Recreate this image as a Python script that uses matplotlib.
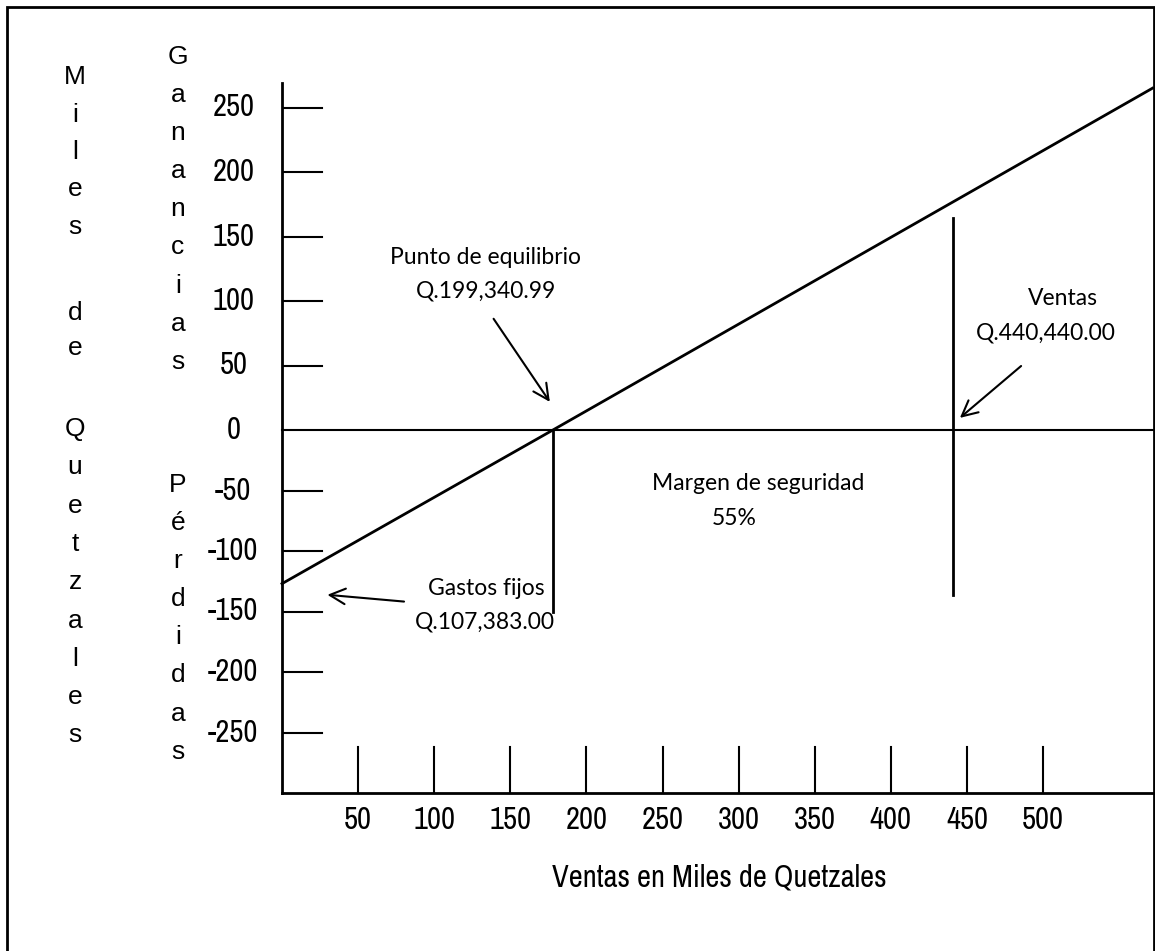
import numpy as np
import matplotlib
matplotlib.use("Agg")
import matplotlib.pyplot as plt

# values (miles de quetzales)
y_ticks = [250, 200, 150, 100, 50, 0, -50, -100, -150, -200, -250]
x_ticks = [50, 100, 150, 200, 250, 300, 350, 400, 450, 500]

line_sales = [0, 178, 572]
line_profit = [-127, 0, 265]

breakeven_x = 178
ventas_x = 441

narrow = ["Liberation Sans Narrow", "Arial Narrow", "Archivo Narrow", "Liberation Sans"]
arial = ["Liberation Sans", "DejaVu Sans"]
calibri = ["Lato", "DejaVu Sans"]


def fwd(v):
    v = np.asarray(v, dtype=float)
    return np.where(v >= 0, v * 1.29, v * 1.21)


def inv(v):
    v = np.asarray(v, dtype=float)
    return np.where(v >= 0, v / 1.29, v / 1.21)


fig = plt.figure(figsize=(11.55, 9.51), dpi=100)
ax = fig.add_axes([0, 0, 1, 1])
ax.set_yscale("function", functions=(fwd, inv))
ax.set_xlim(-282 / 1.522, (1155 - 282) / 1.522)
ax.set_ylim(-(951 - 430) / 1.21, 430 / 1.29)
ax.axis("off")

# frame around the whole picture
fig.patches.append(plt.Rectangle((7 / 1155, -0.01), (1154 - 7) / 1155, 1 - 7 / 951 + 0.01,
                                 transform=fig.transFigure, fill=False, lw=2, ec="black"))

x_right = ax.get_xlim()[1]
axis_bottom = -300

# axes
ax.plot([0, 0], [axis_bottom, 269], color="black", lw=2)
ax.plot([0, x_right], [axis_bottom, axis_bottom], color="black", lw=2)
ax.plot([0, x_right], [0, 0], color="black", lw=1.5)

# y tick marks and labels
for v in y_ticks:
    if v != 0:
        ax.plot([1, 26], [v, v], color="black", lw=1.5)
    ax.text(-32, v, str(v), ha="center", va="center", fontsize=22, family=narrow)

# x tick marks and labels
for v in x_ticks:
    ax.plot([v, v], [axis_bottom, -262], color="black", lw=1.5)
    ax.text(v, -322, str(v), ha="center", va="center", fontsize=22, family=narrow)

ax.text(287, -370, "Ventas en Miles de Quetzales", ha="center", va="center",
        fontsize=22, family=narrow)

# break-even line and markers
ax.plot(line_sales, line_profit, color="black", lw=2)
ax.plot([breakeven_x, breakeven_x], [0, -150], color="black", lw=2)
ax.plot([ventas_x, ventas_x], [164, -136], color="black", lw=2)

arrow = dict(arrowstyle="->", color="black", lw=1.5, mutation_scale=28)
ax.annotate("", xy=(177, 20), xytext=(138, 88), arrowprops=arrow)
ax.annotate("", xy=(444, 8), xytext=(487, 51), arrowprops=arrow)
ax.annotate("", xy=(28, -136), xytext=(82, -142), arrowprops=arrow)

txt = dict(ha="center", va="center", fontsize=16.5, family=calibri)
ax.text(134, 134, "Punto de equilibrio", **txt)
ax.text(134, 108, "Q.199,340.99", **txt)
ax.text(313, -44, "Margen de seguridad", **txt)
ax.text(297, -73, "55%", **txt)
ax.text(134, -131, "Gastos fijos", **txt)
ax.text(133, -159, "Q.107,383.00", **txt)
ax.text(513, 102, "Ventas", **txt)
ax.text(502, 75, "Q.440,440.00", **txt)


# stacked axis titles, one letter per line
def stack(word, px, py, step=37.5):
    for i, ch in enumerate(word):
        fig.text(px / 1155, 1 - (py + i * step) / 951, ch, ha="center", va="center",
                 fontsize=19, family=arial)


stack("Miles", 75, 77)
stack("de", 75, 313, 35)
stack("Quetzales", 75, 429, 38.3)
stack("Ganancias", 178, 57, 38.1)
stack("Pérdidas", 178, 485, 38.1)

fig.savefig("out.png", dpi=100)
